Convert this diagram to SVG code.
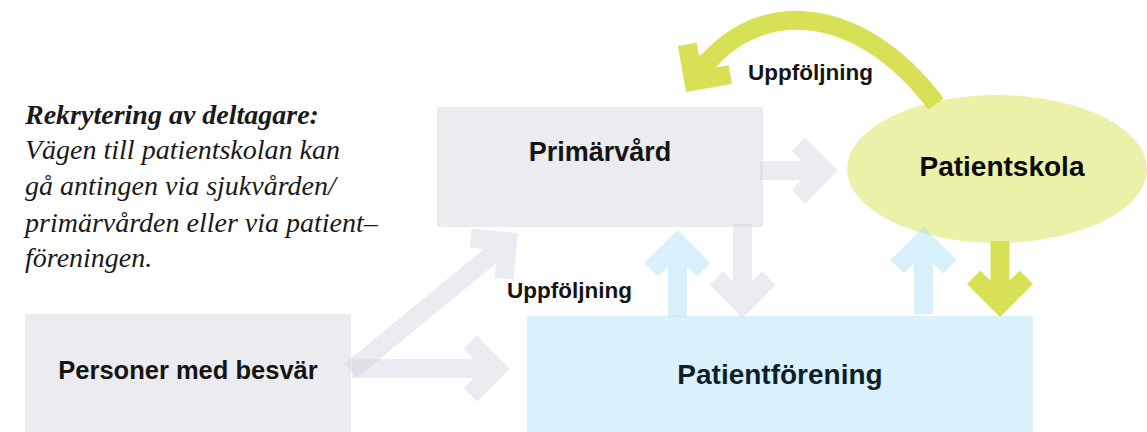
<svg xmlns="http://www.w3.org/2000/svg" width="1147" height="432" viewBox="0 0 1147 432">
<style>
.box-gray{fill:#ebebf0}
.box-blue{fill:#d9f1fb}
.oval{fill:#ecf1a9}
.lbl{font-family:"Liberation Sans",Arial,sans-serif;font-weight:bold;fill:#141414;text-anchor:middle}
.small{font-family:"Liberation Sans",Arial,sans-serif;font-weight:bold;font-size:22.5px;fill:#141414}
.note{font-family:"Liberation Serif","Times New Roman",serif;font-style:italic;font-size:28px;fill:#1a1a1a}
.a-gray{fill:#cdd0dc;fill-opacity:0.4}
.a-blue{fill:#9ed9f5;fill-opacity:0.4}
.a-green{fill:#d8e055}
</style>
<rect width="1147" height="432" fill="#ffffff"/>
<g id="note">
<text class="note" x="25" y="124" font-weight="bold">Rekrytering av deltagare:</text>
<text class="note" x="25" y="159">Vägen till patientskolan kan</text>
<text class="note" x="25" y="195">gå antingen via sjukvården/</text>
<text class="note" x="25" y="232">primärvården eller via patient–</text>
<text class="note" x="25" y="267">föreningen.</text>
</g>
<g id="node-primarvard">
<rect class="box-gray" x="437" y="107" width="326" height="120"/>
<text class="lbl" x="600" y="161" font-size="27">Primärvård</text>
</g>
<g id="node-personer">
<rect class="box-gray" x="25" y="314" width="326" height="118"/>
<text class="lbl" x="188" y="379" font-size="25.5">Personer med besvär</text>
</g>
<g id="node-patientforening">
<rect class="box-blue" x="527" y="316" width="506" height="116"/>
<text class="lbl" x="780" y="384" font-size="28" style="fill:#0f1e2a">Patientförening</text>
</g>
<g id="node-patientskola">
<ellipse class="oval" cx="997" cy="169" rx="150" ry="74"/>
<text class="lbl" x="1002" y="176" font-size="28" style="fill:#0a0a0a">Patientskola</text>
</g>
<g id="connectors">
<polygon class="a-gray" transform="translate(838,170.5)" points="-78,-9.5 -36.5,-9.5 -46.4,-19.6 -33,-33 0,0 -33,33 -46.4,19.6 -36.5,9.5 -78,9.5"/>
<polygon class="a-gray" transform="translate(510,368.5)" points="-158,-9.5 -36.5,-9.5 -46.4,-19.6 -33,-33 0,0 -33,33 -46.4,19.6 -36.5,9.5 -158,9.5"/>
<polygon class="a-gray" transform="translate(518,233) rotate(-39.5)" points="-217,-9.5 -36.5,-9.5 -46.4,-19.6 -33,-33 0,0 -33,33 -46.4,19.6 -36.5,9.5 -217,9.5"/>
<polygon class="a-gray" transform="translate(742.5,318) rotate(90)" points="-94,-9.5 -36.5,-9.5 -46.4,-19.6 -33,-33 0,0 -33,33 -46.4,19.6 -36.5,9.5 -94,9.5"/>
<polygon class="a-blue" transform="translate(677.5,230) rotate(-90)" points="-87,-9.5 -36.5,-9.5 -46.4,-19.6 -33,-33 0,0 -33,33 -46.4,19.6 -36.5,9.5 -87,9.5"/>
<polygon class="a-blue" transform="translate(923.5,227) rotate(-90)" points="-87,-9.5 -36.5,-9.5 -46.4,-19.6 -33,-33 0,0 -33,33 -46.4,19.6 -36.5,9.5 -87,9.5"/>
<polygon class="a-green" transform="translate(1000,317) rotate(90)" points="-76,-9.5 -36.5,-9.5 -46.4,-19.6 -33,-33 0,0 -33,33 -46.4,19.6 -36.5,9.5 -76,9.5"/>
<path d="M936,104 C858,0 752,-4.2 697.5,75.6" fill="none" stroke="#d8e055" stroke-width="19"/>
<polygon class="a-green" transform="translate(686,92) rotate(125)" points="-40,-9.5 -36.5,-9.5 -46.4,-19.6 -33,-33 0,0 -33,33 -46.4,19.6 -36.5,9.5 -40,9.5"/>
<text class="small" x="748" y="80">Uppföljning</text>
<text class="small" x="507" y="298">Uppföljning</text>
</g>
</svg>
